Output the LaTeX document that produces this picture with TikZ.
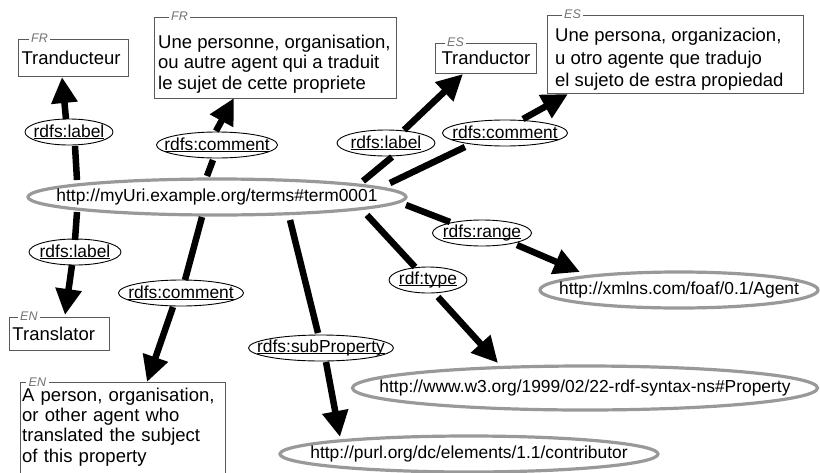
\documentclass[tikz,border=0pt]{standalone}
\usepackage{fontspec}
\setmainfont{Liberation Sans}
\usetikzlibrary{shapes.geometric,arrows.meta}
\newcommand{\ulab}[1]{\leavevmode\setbox0\hbox{#1}\rlap{\rule[-1.8pt]{\wd0}{0.9pt}}\box0}
\hyphenpenalty=10000
\begin{document}
\begin{tikzpicture}[x=1pt,y=-1pt,
  uri/.style={ellipse, draw=black!40, line width=3.2pt, inner sep=0pt},
  uritext/.style={font=\fontsize{17.4}{20}\selectfont, inner sep=0pt},
  prop/.style={ellipse, draw=black, line width=0.9pt, inner sep=0pt, minimum height=26pt},
  proptext/.style={font=\fontsize{17.4}{20}\selectfont, inner sep=0pt},
  plab/.style={label={[proptext]center:{\ulab{#1}}}},
  txtbox/.style={draw=black!65, line width=1pt, align=left, inner ysep=2pt, font=\fontsize{18.5}{21}\selectfont},
  emptybox/.style={draw=black!65, line width=1pt, inner sep=0pt},
  boxtext/.style={align=left, inner sep=0pt, anchor=west},
  tag/.style={fill=white, inner xsep=2.5pt, inner ysep=0.3pt, font=\fontsize{12.5}{12.5}\selectfont\itshape, text=black!55, anchor=west},
  link/.style={line width=6.5pt, black},
  arr/.style={line width=6.5pt, black, -{Triangle[length=26pt,width=25pt]}},
]
\useasboundingbox (0,0) rectangle (820,472);
\clip (0,0) rectangle (820,472);

% resource ellipses
\node[uri, minimum width=378pt, minimum height=36pt, label={[uritext]center:{http://myUri.example.org/terms\#term0001}}] (M) at (217,197) {};
\node[uri, minimum width=278pt, minimum height=36pt, label={[uritext]center:{http://xmlns.com/foaf/0.1/Agent}}] (A) at (679,290) {};
\node[uri, minimum width=465pt, minimum height=44pt, label={[uritext]center:{http://www.w3.org/1999/02/22-rdf-syntax-ns\#Property}}] (P) at (585,388) {};
\node[uri, minimum width=378pt, minimum height=36pt, label={[uritext]center:{http://purl.org/dc/elements/1.1/contributor}}] (C) at (469,454) {};

% property labels
\node[prop, minimum width=88pt, plab=rdfs:label] (L1) at (69,132) {};
\node[prop, minimum width=121pt, plab=rdfs:comment] (L2) at (217,145) {};
\node[prop, minimum width=98pt, plab=rdfs:label] (L3) at (386,143) {};
\node[prop, minimum width=125pt, plab=rdfs:comment] (L4) at (505,133) {};
\node[prop, minimum width=99pt, plab=rdfs:range] (L5) at (482,233) {};
\node[prop, minimum width=78pt, plab=rdf:type] (L6) at (428,280) {};
\node[prop, minimum width=145pt, plab=rdfs:subProperty] (L7) at (321,348) {};
\node[prop, minimum width=125pt, plab=rdfs:comment] (L8) at (181,293) {};
\node[prop, minimum width=92pt, plab=rdfs:label] (L9) at (75,252) {};

% literal boxes
\node[txtbox, minimum width=110pt, minimum height=37pt, inner xsep=3pt, text width=103pt] (B1) at (73,57.5) {Tranducteur};
\node[emptybox, minimum width=242pt, minimum height=81pt] (B2) at (275,57.5) {};
\node[boxtext, font=\fontsize{18.5}{20.6}\selectfont] (X2) at (158,64) {Une personne, organisation,\\ou autre agent qui a traduit\\le sujet de cette propriete};
\node[txtbox, minimum width=101pt, minimum height=30pt, inner xsep=6pt, text width=88pt] (B3) at (485.5,58) {Tranductor};
\node[emptybox, minimum width=256pt, minimum height=78pt] (B4) at (675,54) {};
\node[boxtext, font=\fontsize{18.5}{22.5}\selectfont] (X4) at (555,59.5) {Une persona, organizacion,\\u otro agente que tradujo\\el sujeto de estra propiedad};
\node[txtbox, minimum width=100pt, minimum height=33pt, inner xsep=3pt, text width=93pt] (B5) at (59,333.5) {Translator};
\node[anchor=north west, align=left, inner xsep=2pt, inner ysep=5.5pt, text width=201pt, font=\fontsize{18.5}{20.3}\selectfont] (B6) at (20,382) {A person, organisation,\\or other agent who\\translated the subject\\of this property};
\draw[draw=black!65, line width=1pt] (B6.north west) rectangle ([shift={(0,30)}]B6.south east);

% language tags
\node[tag] (T1) at ([shift={(11,0)}]B1.north west) {FR};
\node[tag] (T2) at ([shift={(15,0)}]B2.north west) {FR};
\node[tag] (T3) at ([shift={(10,0)}]B3.north west) {ES};
\node[tag] (T4) at ([shift={(15,0)}]B4.north west) {ES};
\node[tag] (T5) at ([shift={(9,0)}]B5.north west) {EN};
\node[tag] (T6) at ([shift={(6,0)}]B6.north west) {EN};

% connectors
\draw[link] ([shift={(-140,-17)}]M.center) -- ([shift={(6,14)}]L1.center);
\draw[arr] ([shift={(-3,-13)}]L1.center) -- ([shift={(-11,19.5)}]B1.center);
\draw[link] ([shift={(-10,-21)}]M.center) -- ([shift={(-4,15)}]L2.center);
\draw[arr] ([shift={(-1,-14)}]L2.center) -- ([shift={(-41,40.5)}]B2.center);
\draw[link] ([shift={(146,-16)}]M.center) -- ([shift={(6,14)}]L3.center);
\draw[arr] ([shift={(18,-13)}]L3.center) -- ([shift={(-22.5,16)}]B3.center);
\draw[link] ([shift={(173,-14)}]M.center) -- ([shift={(-40,14)}]L4.center);
\draw[arr] ([shift={(18,-14)}]L4.center) -- ([shift={(-107,40)}]B4.center);
\draw[link] ([shift={(189,8)}]M.center) -- ([shift={(-32,-11)}]L5.center);
\draw[arr] ([shift={(35,12)}]L5.center) -- ([shift={(-99,-18)}]A.center);
\draw[link] ([shift={(150,18)}]M.center) -- ([shift={(-13,-13)}]L6.center);
\draw[arr] ([shift={(10,17)}]L6.center) -- ([shift={(-87,-25)}]P.center);
\draw[link] ([shift={(73,23)}]M.center) -- ([shift={(-3,-15)}]L7.center);
\draw[arr] ([shift={(5,14)}]L7.center) -- ([shift={(-129,-17)}]C.center);
\draw[link] ([shift={(-15,20)}]M.center) -- ([shift={(4,-13)}]L8.center);
\draw[arr] ([shift={(-8,14)}]L8.center) -- ([shift={(127,0)}]B6.north west);
\draw[link] ([shift={(-140,15)}]M.center) -- ([shift={(0,-12)}]L9.center);
\draw[arr] ([shift={(-3,13)}]L9.center) -- ([shift={(6,-18.5)}]B5.center);
\end{tikzpicture}
\end{document}
